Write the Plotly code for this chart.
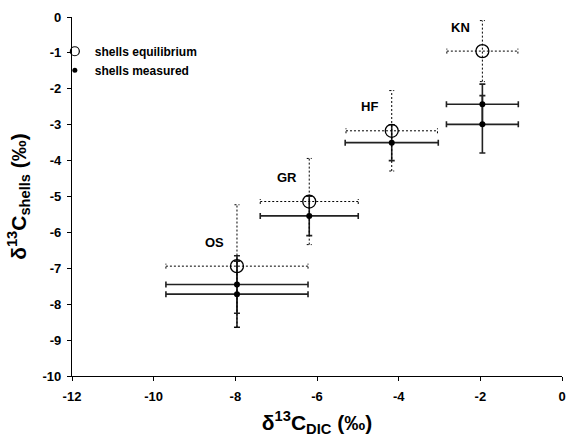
import plotly.graph_objects as go

# ---- data ----
sites = ["KN", "HF", "GR", "OS"]
dic = [-1.95, -4.17, -6.19, -7.96]
dic_err_eq = [0.87, 1.12, 1.20, 1.74]
eq = [-0.95, -3.17, -5.14, -6.94]
eq_err = [0.85, 1.12, 1.20, 1.71]

meas_x = [-1.95, -1.95, -4.17, -6.19, -7.96, -7.96]
meas_xerr = [0.88, 0.88, 1.14, 1.20, 1.74, 1.74]
meas_y = [-2.43, -2.99, -3.50, -5.54, -7.45, -7.72]
meas_yerr = [0.56, 0.80, 0.50, 0.55, 0.80, 0.92]

x_ticks = [-12, -10, -8, -6, -4, -2, 0]
y_ticks = [0, -1, -2, -3, -4, -5, -6, -7, -8, -9, -10]

# ---- layout geometry ----
W, H = 568, 437
ML, MR, MT, MB = 72, 6, 17, 61
XR = (-12, 0)
YR = (-10, 0)
px_x = (W - ML - MR) / (XR[1] - XR[0])
px_y = (H - MT - MB) / (YR[1] - YR[0])
cap_px = 2.5
cx = cap_px / px_x
cy = cap_px / px_y

FONT = "Liberation Sans, Arial, sans-serif"

# dotted error bars for equilibrium values
ex, ey = [], []
for x, xe, y, ye in zip(dic, dic_err_eq, eq, eq_err):
    ex += [x - xe, x + xe, None, x, x, None]
    ey += [y, y, None, y - ye, y + ye, None]
    # caps
    ex += [x - xe, x - xe, None, x + xe, x + xe, None]
    ey += [y - cy, y + cy, None, y - cy, y + cy, None]
    ex += [x - cx, x + cx, None, x - cx, x + cx, None]
    ey += [y - ye, y - ye, None, y + ye, y + ye, None]

fig = go.Figure()

fig.add_trace(go.Scatter(
    x=meas_x, y=meas_y, mode="markers",
    marker=dict(size=6, color="black"),
    error_x=dict(type="data", array=meas_xerr, color="#222222", thickness=1.6, width=3),
    error_y=dict(type="data", array=meas_yerr, color="#222222", thickness=1.6, width=3),
    name="shells measured", showlegend=False,
))

fig.add_trace(go.Scatter(
    x=ex, y=ey, mode="lines",
    line=dict(color="black", width=1, dash="2px,2px"),
    showlegend=False, hoverinfo="skip",
))

fig.add_trace(go.Scatter(
    x=dic, y=eq, mode="markers",
    marker=dict(symbol="circle-open", size=13, color="black", line=dict(width=1.3)),
    name="shells equilibrium", showlegend=False,
))

# legend entries (smaller symbols as in the original legend)
fig.add_trace(go.Scatter(
    x=[None], y=[None], mode="markers",
    marker=dict(symbol="circle-open", size=9, color="black", line=dict(width=1.2)),
    name="shells equilibrium",
))
fig.add_trace(go.Scatter(
    x=[None], y=[None], mode="markers",
    marker=dict(size=5, color="black"),
    name="shells measured",
))

for s, x, y in zip(sites, dic, eq):
    fig.add_annotation(x=x, y=y, text=s, showarrow=False,
                       xshift=-22, yshift=24,
                       font=dict(family=FONT, size=13, color="black", weight="bold"))

axis_common = dict(
    showgrid=False, zeroline=False, showline=True, linecolor="black", linewidth=1.3,
    ticks="outside", ticklen=4, tickcolor="black", tickwidth=1.3,
    tickfont=dict(family=FONT, size=13, color="black", weight="bold"),
    mirror=False, automargin=False, ticklabeloverflow="allow",
)

fig.update_layout(
    width=W, height=H,
    margin=dict(l=ML, r=MR, t=MT, b=MB),
    paper_bgcolor="white", plot_bgcolor="white",
    xaxis=dict(range=list(XR), tickvals=x_ticks, ticktext=[str(v) for v in x_ticks],
               title=dict(text="δ<sup>13</sup>C<sub>DIC</sub> (‰)", standoff=15,
                          font=dict(family=FONT, size=21, color="black", weight="bold")),
               ticklabelstandoff=4, **axis_common),
    yaxis=dict(range=list(YR), tickvals=y_ticks, ticktext=[str(v) for v in y_ticks],
               title=dict(text="δ<sup>13</sup>C<sub>shells</sub> (‰)", standoff=10,
                          font=dict(family=FONT, size=21, color="black", weight="bold")),
               ticklabelstandoff=3, **axis_common),
    legend=dict(x=-0.035, y=0.945, xanchor="left", yanchor="top", bgcolor="rgba(0,0,0,0)",
                font=dict(family=FONT, size=12, color="black", weight="bold"),
                itemwidth=30, tracegroupgap=0),
    showlegend=True,
)

fig.write_html("out.html", config={"displayModeBar": False},
               post_script="document.body.style.margin='0';")
